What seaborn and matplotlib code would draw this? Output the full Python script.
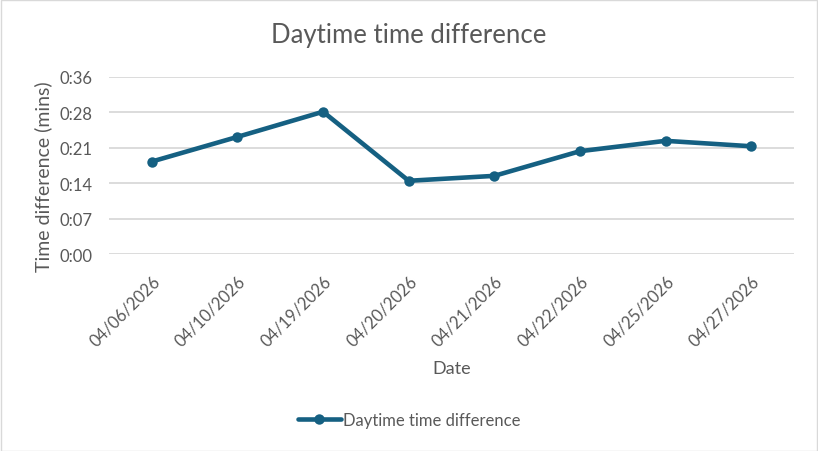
import pandas as pd
import matplotlib.pyplot as plt
import seaborn as sns
from matplotlib.lines import Line2D

# Data (time difference in minutes)
dates = ['04/06/2026', '04/10/2026', '04/19/2026', '04/20/2026',
         '04/21/2026', '04/22/2026', '04/25/2026', '04/27/2026']
minutes = [18.8, 23.8, 28.9, 14.9, 15.9, 20.9, 23.0, 21.9]
ytick_values = [0, 7.2, 14.4, 21.6, 28.8, 36]
ytick_labels = ['0:00', '0:07', '0:14', '0:21', '0:28', '0:36']

df = pd.DataFrame({'Date': dates, 'Minutes': minutes})
df['pos'] = range(len(dates))

sns.set_style('white')
plt.rcParams['font.family'] = ['Lato', 'DejaVu Sans']

line_color = '#156082'
text_color = '#595959'

fig = plt.figure(figsize=(8.18, 4.52), dpi=100)
ax = fig.add_axes([109 / 818, 1 - 255.3 / 452, 685 / 818, 177.6 / 452])

sns.lineplot(data=df, x='pos', y='Minutes', ax=ax, color=line_color,
             linewidth=3.3, marker='o', markersize=7.5, markeredgewidth=0,
             clip_on=False, zorder=3)

ax.set_xlim(-0.5, len(dates) - 0.5)
ax.set_ylim(0, 36)
ax.set_xticks(df['pos'])
ax.set_xticklabels(dates, rotation=45, ha='right', rotation_mode='anchor',
                   fontsize=12, color=text_color)
ax.set_yticks(ytick_values)
ax.set_yticklabels(ytick_labels, fontsize=12, color=text_color)
ax.tick_params(axis='both', length=0)
ax.tick_params(axis='y', pad=12)
ax.tick_params(axis='x', pad=13)
ax.yaxis.grid(True, color='#d9d9d9', linewidth=1.3)
ax.xaxis.grid(False)
for s in ax.spines.values():
    s.set_visible(False)

ax.set_xlabel('Date', fontsize=13, color=text_color, labelpad=8)
ax.set_ylabel('Time difference (mins)', fontsize=14, color=text_color)
ax.yaxis.set_label_coords(-0.083, 0.445)
fig.text(0.5, 1 - 35 / 452, 'Daytime time difference', ha='center', va='center',
         fontsize=18.5, color=text_color)

handle = Line2D([0], [0], color=line_color, linewidth=3.3, marker='o',
                markersize=7.5, markeredgewidth=0)
fig.legend([handle], ['Daytime time difference'], loc='center',
           bbox_to_anchor=(0.5, 1 - 421 / 452), frameon=False, fontsize=12,
           labelcolor=text_color, handlelength=2.6, handletextpad=0.1)

# thin border around the chart area
fig.patches.append(plt.Rectangle((0.001, 0.001), 0.998, 0.997, transform=fig.transFigure,
                                 fill=False, edgecolor='#d9d9d9', linewidth=1))

fig.savefig('out.png', dpi=100)
